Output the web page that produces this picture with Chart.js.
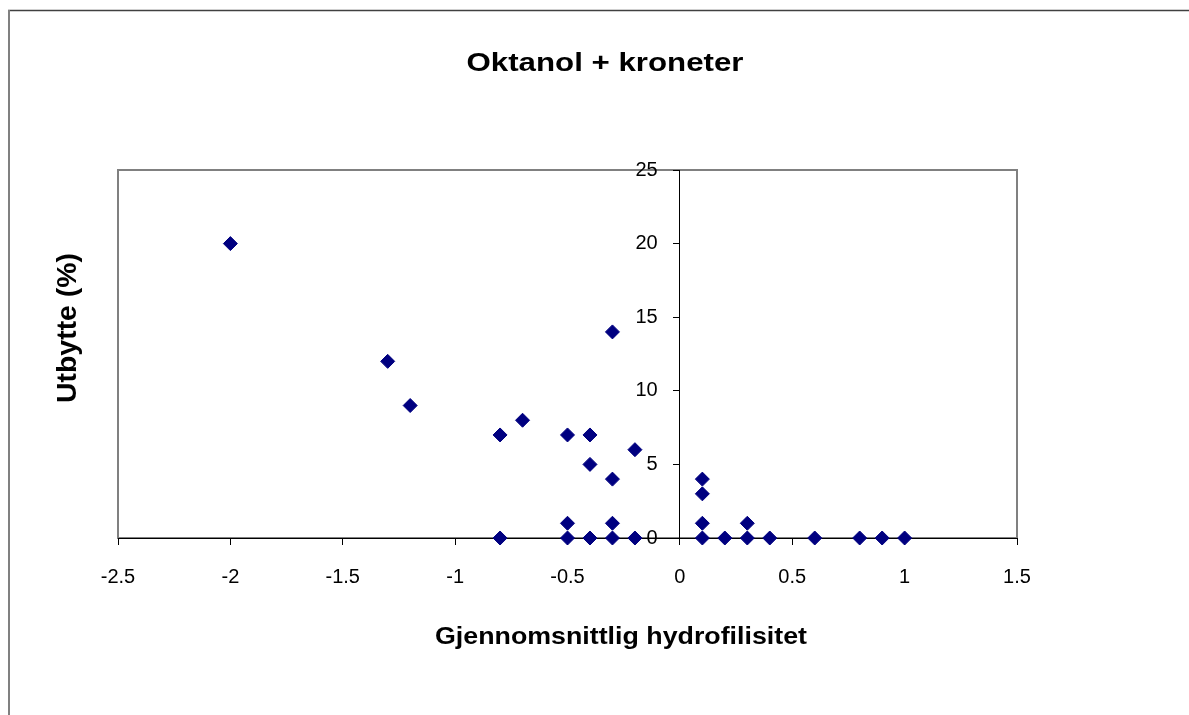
<!DOCTYPE html>
<html>
<head>
<meta charset="utf-8">
<script src="https://cdn.jsdelivr.net/npm/chart.js@4/dist/chart.umd.min.js"></script>
<style>
  body { margin: 0; background: #fff; }
  canvas { display: block; }
</style>
</head>
<body>
<canvas id="chart" width="1189" height="715"></canvas>
<script>
// hydrophilicity (x) and yield in % (y)
const hydro = [-2, -1.3, -1.2, -0.8, -0.7, -0.5, -0.4, -0.4, -0.3, -0.3, -0.2,
  0.1, 0.1, -0.5, -0.3, 0.1, 0.3,
  -0.8, -0.5, -0.4, -0.3, -0.2, 0.1, 0.2, 0.3, 0.4, 0.6, 0.8, 0.9, 1.0];
const yieldPct = [20, 12, 9, 7, 8, 7, 7, 5, 14, 4, 6,
  4, 3, 1, 1, 1, 1,
  0, 0, 0, 0, 0, 0, 0, 0, 0, 0, 0, 0, 0];

const titleText = 'Oktanol + kroneter';
const xTitle = 'Gjennomsnittlig hydrofilisitet';
const yTitle = 'Utbytte (%)';

const points = hydro.map((x, i) => ({ x: x, y: yieldPct[i] }));
const tickFont = { family: '"Liberation Sans", Arial, sans-serif', size: 20 };

// draws text squeezed/stretched to a given width
function fitText(ctx, text, cx, by, font, w) {
  ctx.save();
  ctx.font = font;
  const nat = ctx.measureText(text).width;
  ctx.translate(cx, by);
  ctx.scale(w / nat, 1);
  ctx.textAlign = 'center';
  ctx.textBaseline = 'alphabetic';
  ctx.fillText(text, 0, 0);
  ctx.restore();
}

const frame = {
  id: 'frame',
  beforeDraw(chart) {
    const ctx = chart.ctx;
    const a = chart.chartArea;
    ctx.save();
    ctx.fillStyle = '#fff';
    ctx.fillRect(0, 0, chart.width, chart.height);
    // outer chart border (only top and left inside the picture)
    ctx.strokeStyle = '#404040';
    ctx.lineWidth = 1.5;
    ctx.beginPath();
    ctx.moveTo(8, 10.5);
    ctx.lineTo(chart.width, 10.5);
    ctx.stroke();
    ctx.strokeStyle = '#808080';
    ctx.lineWidth = 2;
    ctx.beginPath();
    ctx.moveTo(9, 10);
    ctx.lineTo(9, chart.height);
    ctx.stroke();
    // plot area border
    ctx.strokeStyle = '#808080';
    ctx.lineWidth = 2;
    ctx.strokeRect(a.left, a.top, a.right - a.left, a.bottom - a.top);
    ctx.restore();
  },
  afterDraw(chart) {
    const ctx = chart.ctx;
    ctx.save();
    ctx.fillStyle = '#000';
    fitText(ctx, titleText, 605, 71, 'bold 26px "Liberation Sans", Arial, sans-serif', 277);
    fitText(ctx, xTitle, 621, 644, 'bold 24px "Liberation Sans", Arial, sans-serif', 372);
    ctx.translate(76, 328);
    ctx.rotate(-Math.PI / 2);
    fitText(ctx, yTitle, 0, 0, 'bold 28px "Liberation Sans", Arial, sans-serif', 150);
    ctx.restore();
  }
};

const ctx = document.getElementById('chart').getContext('2d');
new Chart(ctx, {
  type: 'scatter',
  data: {
    datasets: [{
      data: points,
      pointStyle: 'rectRot',
      pointRadius: 7,
      pointHoverRadius: 7,
      backgroundColor: '#000080',
      borderColor: '#000080',
      borderWidth: 1,
      clip: false
    }]
  },
  options: {
    responsive: false,
    animation: false,
    events: [],
    layout: { padding: { left: 118, top: 170, right: 172, bottom: 177 } },
    plugins: { legend: { display: false }, tooltip: { enabled: false } },
    scales: {
      x: {
        type: 'linear',
        min: -2.5, max: 1.5,
        position: { y: 0 },
        afterFit: (s) => { s.height = 0; },
        ticks: {
          stepSize: 0.5,
          padding: 21,
          color: '#000',
          font: tickFont,
          maxRotation: 0,
          callback: (v) => String(v)
        },
        grid: { drawOnChartArea: false, drawTicks: true, tickLength: 6, color: '#000' },
        border: { display: true, color: '#000', width: 1 }
      },
      y: {
        type: 'linear',
        min: 0, max: 25,
        position: { x: 0 },
        afterFit: (s) => { s.width = 0; },
        ticks: {
          stepSize: 5,
          color: '#000',
          font: tickFont,
          // labels sit right on the axis when it is placed at x = 0, so pad them
          callback: (v) => String(v) + '\u00a0\u00a0\u00a0\u00a0'
        },
        grid: { drawOnChartArea: false, drawTicks: true, tickLength: 6, color: '#000' },
        border: { display: true, color: '#000', width: 1 }
      }
    }
  },
  plugins: [frame]
});
</script>
</body>
</html>
